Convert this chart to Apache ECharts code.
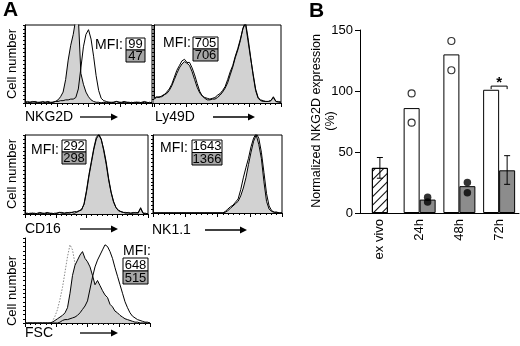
<!DOCTYPE html>
<html><head><meta charset="utf-8">
<script src="https://cdn.jsdelivr.net/npm/echarts@6/dist/echarts.min.js"></script>
<style>html,body{margin:0;padding:0;background:#fff}#c{width:520px;height:346px}</style>
</head><body><div id="c"></div>
<script>
// ---------- Panel A data (histograms; x = fluorescence channel bins, y = % of max) ----------
const histBins = [0,2,4,6,8,10,12,14,16,18,20,22,24,26,28,30,32,34,36,38,40,42,44,46,48,50,52,54,56,58,60,62,64,66,68,70,72,74,76,78,80,82,84,86,88,90,92,94,96,98,100];
const nkg2dGrey  = [1,0,1,2,1,0,1,2,1,1,0,1,2,4,8,14,30,55,74,88,108,110,38,24,14,8,4,2,1,1,0,1,0,1,0,1,2,1,0,1,1,0,1,0,1,1,0,1,0,1,0];
const nkg2dWhite = [1,2,1,1,2,1,1,0,1,2,1,1,2,2,3,3,4,4,5,5,7,18,45,72,88,94,82,60,35,16,6,3,2,1,1,1,2,1,1,2,1,1,0,1,1,0,1,2,1,0,1];
const ly49dGrey  = [6,8,7,9,11,12,16,22,30,38,45,50,53,51,48,40,30,20,13,9,7,6,5,6,7,10,12,16,21,30,40,48,60,70,82,95,102,80,58,38,18,7,4,3,2,2,3,8,2,2,1];
const ly49dWhite = [5,7,8,8,10,14,18,24,33,42,48,54,56,52,52,45,36,25,15,9,6,4,4,5,5,7,10,14,19,26,36,46,58,68,80,96,104,84,60,36,16,6,3,2,2,2,3,7,2,1,1];
const cd16Grey   = [1,0,1,1,0,1,2,1,0,1,1,0,1,1,2,1,1,2,1,2,1,2,4,6,12,28,48,65,82,95,100,94,82,66,45,28,16,8,4,3,2,1,2,1,1,2,1,8,1,0,0];
const cd16White  = [1,1,0,1,1,0,1,1,1,2,1,1,0,1,2,2,1,1,2,2,3,3,4,5,13,30,50,67,84,97,101,95,80,63,43,27,15,8,5,3,2,2,1,1,2,1,2,7,1,1,0];
const nk11Grey   = [0,0,0,0,0,0,0,0,0,0,0,0,0,0,0,0,0,0,0,0,0,0,0,0,0,0,0,0,1,3,6,9,12,15,22,32,45,62,78,92,100,88,70,40,15,5,2,1,1,0,0];
const nk11White  = [0,0,0,0,0,0,0,0,0,0,0,0,0,0,0,0,0,0,0,0,0,0,0,0,0,0,0,0,2,5,8,10,14,18,30,45,58,70,85,96,102,96,78,52,25,9,3,1,1,0,0];
const fscIsotype = [0,0,0,0,0,0,0,0,0,0,0,2,8,16,28,42,60,78,92,86,70,50,20,5,1,0,0,0,0,0,0,0,0,0,0,0,0,0,0,0,0,0,0,0,0,0,0,0,0,0,0];
const fscGrey    = [0,0,0,0,0,0,0,0,0,0,0,1,3,5,7,9,12,18,35,56,68,74,80,84,76,72,66,56,45,50,44,38,33,30,22,19,14,12,9,7,5,4,3,2,1,1,0,0,0,0,0];
const fscWhite   = [0,0,0,0,0,0,0,0,0,0,0,0,0,0,1,3,4,4,5,6,7,9,12,16,20,26,40,54,66,74,80,86,92,90,84,76,65,55,45,35,25,18,12,8,6,4,3,2,1,1,0];
const markerNames = ['NKG2D','Ly49D','CD16','NK1.1','FSC'];
const mfiOpen   = [99, 705, 292, 1643, 648];
const mfiFilled = [47, 706, 298, 1366, 515];

// ---------- Panel B data ----------
const timeCategories = ['ex vivo','24h','48h','72h'];
const exVivoBar   = [37, '-', '-', '-'];
const exVivoErrLo = [28.5, '-', '-', '-'];
const exVivoErrHi = [45.5, '-', '-', '-'];
const openBars    = ['-', 86, 130, 101];
const filledBars  = ['-', 11, 22, 35];
const filledErrLo = ['-', '-', '-', 23.5];
const filledErrHi = ['-', '-', '-', 47];
const openDots    = [[], [98, 74], [141, 117], []];
const filledDots  = [[], [13, 9], [25, 16.5], []];
const sigCategory = '72h';
const sigLevel    = 104;

// ---------- layout ----------
const FAM = 'Liberation Sans';
const boxes = [
  {l:25,  t:25,  w:127, h:78, box:true},
  {l:154, t:25,  w:127, h:78, box:true},
  {l:25,  t:135, w:123, h:79, box:true},
  {l:153, t:135, w:129, h:78, box:true},
  {l:25,  t:238, w:125, h:85, box:false}
];
const labelPos = [
  {x:25, y:117, a1:80, a2:118},
  {x:155,y:117, a1:213,a2:255},
  {x:25, y:229, a1:80, a2:118},
  {x:152,y:230, a1:205,a2:247},
  {x:25, y:333, a1:80, a2:118}
];
const mfiPos = [
  {mx:95, my:45, bx:126, by:38, bw:19, bh:12},
  {mx:163,my:43, bx:193, by:37, bw:25, bh:12},
  {mx:31, my:150,bx:62,  by:140,bw:24, bh:12},
  {mx:160,my:148,bx:192, by:140,bw:30, bh:12.5},
  {mx:123,my:251,bx:123, by:258,bw:25, bh:13}
];
const cellNumberY = [64, 174, 291];

const histData = [
  {grey:nkg2dGrey, white:nkg2dWhite},
  {grey:ly49dGrey, white:ly49dWhite},
  {grey:cd16Grey, white:cd16White},
  {grey:nk11Grey, white:nk11White},
  {grey:fscGrey, white:fscWhite, ctrl:fscIsotype}
];
const pairs = arr => histBins.map((b,i)=>[b, arr[i]]);
const txt = (text, size, extra) => Object.assign({text:text, fontSize:size, fontFamily:FAM, fill:'#000'}, extra||{});

const grids=[], xAxes=[], yAxes=[], series=[], graphics=[];
boxes.forEach((b,i)=>{
  grids.push({left:b.l, top:b.t, width:b.w, height:b.h, show:b.box, borderColor:'#000', borderWidth:1, backgroundColor:'rgba(0,0,0,0)'});
  xAxes.push({gridIndex:i, type:'value', min:0, max:100, interval:25,
    axisLabel:{show:false}, splitLine:{show:false},
    axisLine:{show:true, onZero:false, lineStyle:{color:'#000', width:1}},
    axisTick:{show:true, length:4, lineStyle:{color:'#000', width:1}},
    minorTick:{show:true, splitNumber:6, length:2, lineStyle:{color:'#000', width:1}}});
  yAxes.push({gridIndex:i, type:'value', min:0, max:100, interval:5,
    axisLabel:{show:false}, splitLine:{show:false},
    axisLine:{show:true, lineStyle:{color:'#000', width:1}},
    axisTick:{show:true, length:2, lineStyle:{color:'#000', width:1}}});
  const d = histData[i];
  if (d.ctrl) series.push({type:'line', xAxisIndex:i, yAxisIndex:i, data:pairs(d.ctrl), symbol:'none', z:1,
    lineStyle:{color:'#888', width:1, type:[1.5,1.5]}});
  series.push({type:'line', xAxisIndex:i, yAxisIndex:i, data:pairs(d.grey), symbol:'none', z:2,
    lineStyle:{color:'#000', width:1}, areaStyle:{color:'#d2d2d2', opacity:1}});
  series.push({type:'line', xAxisIndex:i, yAxisIndex:i, data:pairs(d.white), symbol:'none', z:3,
    lineStyle:{color:'#000', width:1}});

  const lp = labelPos[i];
  graphics.push({type:'text', x:lp.x, y:lp.y, style:txt(markerNames[i], 14, {verticalAlign:'middle'})});
  graphics.push({type:'line', shape:{x1:lp.a1, y1:lp.y, x2:lp.a2-6, y2:lp.y}, style:{stroke:'#000', lineWidth:1.3}});
  graphics.push({type:'polygon', shape:{points:[[lp.a2-7,lp.y-3.5],[lp.a2,lp.y],[lp.a2-7,lp.y+3.5]]}, style:{fill:'#000'}});

  const m = mfiPos[i];
  graphics.push({type:'text', x:m.mx, y:m.my, z:10, style:txt('MFI:', 14, {verticalAlign:'middle'})});
  graphics.push({type:'rect', shape:{x:m.bx, y:m.by, width:m.bw, height:m.bh}, style:{fill:'#fff', stroke:'#000', lineWidth:1}, z:10});
  graphics.push({type:'rect', shape:{x:m.bx, y:m.by+m.bh, width:m.bw, height:m.bh}, style:{fill:'#a6a6a6', stroke:'#000', lineWidth:1}, z:10});
  graphics.push({type:'text', x:m.bx+m.bw/2, y:m.by+m.bh/2+0.5, z:11, style:txt(String(mfiOpen[i]), 13, {align:'center', verticalAlign:'middle'})});
  graphics.push({type:'text', x:m.bx+m.bw/2, y:m.by+m.bh*1.5+0.5, z:11, style:txt(String(mfiFilled[i]), 13, {align:'center', verticalAlign:'middle'})});
});
cellNumberY.forEach(cy=>{
  graphics.push({type:'text', x:12, y:cy, rotation:Math.PI/2, style:txt('Cell number', 13, {align:'center', verticalAlign:'middle'})});
});
graphics.push({type:'text', x:3, y:0, style:txt('A', 21, {fontWeight:'bold'})});
graphics.push({type:'text', x:309, y:1, style:txt('B', 21, {fontWeight:'bold'})});
graphics.push({type:'text', x:317, y:121, rotation:Math.PI/2, style:txt('Normalized NKG2D expression', 12.5, {align:'center', verticalAlign:'middle'})});
graphics.push({type:'text', x:331, y:121, rotation:Math.PI/2, style:txt('(%)', 12.5, {align:'center', verticalAlign:'middle'})});

// ---------- Panel B ----------
const gB = grids.length;
grids.push({left:360, top:30, width:159, height:183});
const xB = xAxes.length;
xAxes.push({gridIndex:gB, type:'category', data:timeCategories,
  axisLine:{lineStyle:{color:'#000', width:1}},
  axisTick:{alignWithLabel:true, length:5, lineStyle:{color:'#000'}},
  axisLabel:{rotate:90, color:'#000', fontSize:13, fontFamily:FAM, margin:6}});
xAxes.push({gridIndex:gB, type:'category', data:timeCategories, show:false});
const yB = yAxes.length;
yAxes.push({gridIndex:gB, type:'value', min:0, max:150, interval:50,
  splitLine:{show:false},
  axisLine:{show:true, lineStyle:{color:'#000', width:1}},
  axisTick:{show:true, length:5, lineStyle:{color:'#000'}},
  axisLabel:{color:'#000', fontSize:13, fontFamily:FAM, margin:7}});

const BW = 16;
series.push({type:'bar', xAxisIndex:xB, yAxisIndex:yB, data:openBars, barWidth:BW, barGap:'0%', z:2,
  itemStyle:{color:'#fff', borderColor:'#000', borderWidth:1}});
series.push({type:'bar', xAxisIndex:xB, yAxisIndex:yB, data:filledBars, barWidth:BW, barGap:'0%', z:2,
  itemStyle:{color:'#8c8c8c', borderColor:'#000', borderWidth:1}});
series.push({type:'bar', xAxisIndex:xB+1, yAxisIndex:yB, data:exVivoBar, barWidth:BW, z:2,
  itemStyle:{color:'#fff', borderColor:'#000', borderWidth:1,
    decal:{symbol:'rect', symbolSize:1, dashArrayX:[1,0], dashArrayY:[1,4.5], rotation:-Math.PI/4, color:'#000'}}});

function errSeries(axis, lo, hi, off){
  const data = lo.map((v,i)=> v==='-' ? null : [i, v, hi[i]]).filter(Boolean);
  return {type:'custom', xAxisIndex:axis, yAxisIndex:yB, z:4, data:data,
    renderItem:(p, api)=>{
      const a = api.coord([api.value(0), api.value(1)]);
      const b = api.coord([api.value(0), api.value(2)]);
      const x = a[0] + off;
      const st = {stroke:'#000', lineWidth:1};
      return {type:'group', children:[
        {type:'line', shape:{x1:x, y1:a[1], x2:x, y2:b[1]}, style:st},
        {type:'line', shape:{x1:x-3, y1:a[1], x2:x+3, y2:a[1]}, style:st},
        {type:'line', shape:{x1:x-3, y1:b[1], x2:x+3, y2:b[1]}, style:st}
      ]};
    }};
}
series.push(errSeries(xB+1, exVivoErrLo, exVivoErrHi, 0));
series.push(errSeries(xB, filledErrLo, filledErrHi, BW/2));

const dotData = arr => arr.flatMap((vals,i)=> vals.map(v=>[timeCategories[i], v]));
series.push({type:'scatter', xAxisIndex:xB, yAxisIndex:yB, data:dotData(openDots), symbol:'circle', symbolSize:7,
  symbolOffset:[-BW/2,0], z:5, itemStyle:{color:'#fff', borderColor:'#000', borderWidth:1.2}});
series.push({type:'scatter', xAxisIndex:xB, yAxisIndex:yB, data:dotData(filledDots), symbol:'circle', symbolSize:7.5,
  symbolOffset:[BW/2,0], z:5, itemStyle:{color:'#000'}});

series.push({type:'custom', xAxisIndex:xB, yAxisIndex:yB, z:5, data:[[sigCategory, sigLevel]],
  renderItem:(p, api)=>{
    const c = api.coord([api.value(0), api.value(1)]);
    const x1 = c[0]-BW/2, x2 = c[0]+BW/2, y = c[1];
    return {type:'group', children:[
      {type:'polyline', shape:{points:[[x1,y+3],[x1,y],[x2,y],[x2,y+3]]}, style:{stroke:'#000', lineWidth:1, fill:null}},
      {type:'text', x:c[0], y:y+4, style:txt('*', 15, {fontWeight:'bold', align:'center', verticalAlign:'bottom'})}
    ]};
  }});

const chart = echarts.init(document.getElementById('c'), null, {renderer:'canvas'});
chart.setOption({animation:false, backgroundColor:'#fff', grid:grids, xAxis:xAxes, yAxis:yAxes, series:series, graphic:graphics});
</script></body></html>
